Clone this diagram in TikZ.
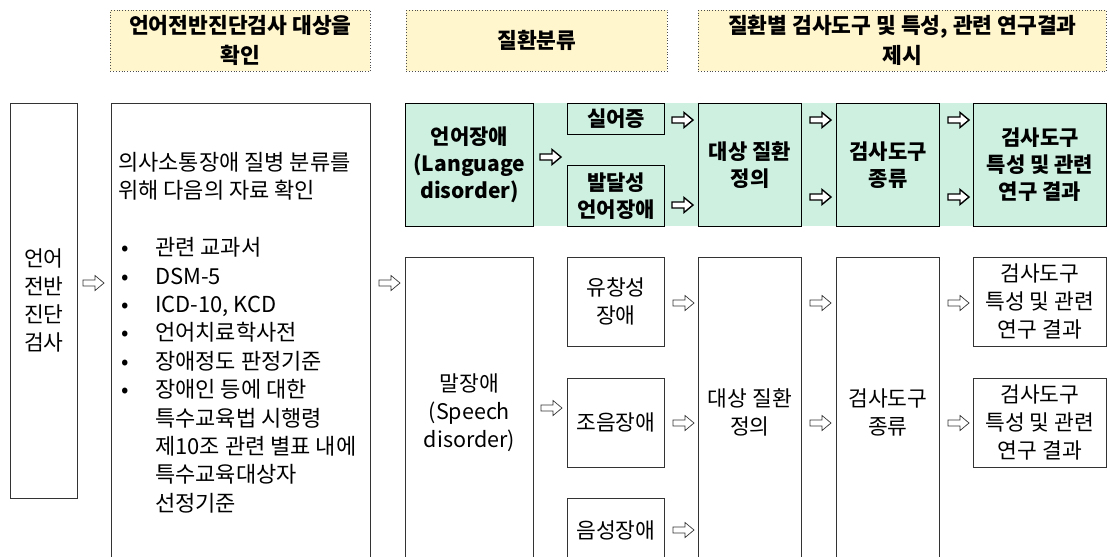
\documentclass[tikz,border=0pt]{standalone}
\usepackage{fontspec}
\setmainfont{Noto Sans CJK KR}
\definecolor{hdr}{RGB}{255,246,206}
\definecolor{grn}{RGB}{205,240,225}
\tikzset{
  hdrbox/.style={draw=black!70, dotted, line width=0.8pt, fill=hdr, anchor=north west, align=center, inner sep=0pt,
    font=\fontsize{21.5}{30}\selectfont\bfseries},
  grnbox/.style={draw=black, line width=1pt, fill=grn, anchor=north west, align=center, inner sep=0pt,
    font=\fontsize{21}{27}\selectfont\bfseries},
  wbox/.style={draw=black!80, line width=0.8pt, fill=white, anchor=north west, align=center, inner sep=0pt,
    font=\fontsize{21.5}{28}\selectfont},
  harrow/.pic={\draw[pic actions] (0,-3) -- (12,-3) -- (12,-7.5) -- (21,0) -- (12,7.5) -- (12,3) -- (0,3) -- cycle;},
  thinarr/.style={draw=black!80, line width=0.7pt, fill=white},
  boldarr/.style={draw=black, line width=1.4pt, fill=white, line join=miter}
}
\begin{document}
\begin{tikzpicture}[x=1pt,y=-1pt]
\useasboundingbox (0,0) rectangle (1109,557);
\clip (0,0) rectangle (1109,557);
\fill[white] (0,0) rectangle (1109,557);
% headers
\node[hdrbox, minimum width=260pt, minimum height=61pt] (h1) at (110,10) {언어전반진단검사 대상을\\확인};
\node[hdrbox, minimum width=261pt, minimum height=61pt] (h2) at (406,10) {질환분류};
\node[hdrbox, minimum width=408pt, minimum height=61pt] (h3) at (698,10) {질환별 검사도구 및 특성, 관련 연구결과\\제시};
% left column
\node[wbox, minimum width=67pt, minimum height=395pt] (start) at (10,103) {언어\\전반\\진단\\검사};
\node[wbox, minimum width=259pt, minimum height=464pt] (list) at (111,103) {};
\node[anchor=north west, inner sep=0pt, align=left, font=\fontsize{22}{28.4}\selectfont] (listtext) at (118,152)
 {의사소통장애 질병 분류를\\위해 다음의 자료 확인\\[28.4pt]
  \hspace*{3pt}\makebox[34pt][l]{•}관련 교과서\\
  \hspace*{3pt}\makebox[34pt][l]{•}DSM-5\\
  \hspace*{3pt}\makebox[34pt][l]{•}ICD-10, KCD\\
  \hspace*{3pt}\makebox[34pt][l]{•}언어치료학사전\\
  \hspace*{3pt}\makebox[34pt][l]{•}장애정도 판정기준\\
  \hspace*{3pt}\makebox[34pt][l]{•}장애인 등에 대한\\
  \hspace*{37pt}특수교육법 시행령\\
  \hspace*{37pt}제10조 관련 별표 내에\\
  \hspace*{37pt}특수교육대상자\\
  \hspace*{37pt}선정기준};
% green band
\fill[grn] (405,103) rectangle (1106,226);
\node[grnbox, minimum width=128pt, minimum height=123pt] (lang) at (405,103) {언어장애\\(Language\\disorder)};
\node[grnbox, minimum width=97pt, minimum height=31pt] (aph) at (567,103) {실어증};
\node[grnbox, minimum width=97pt, minimum height=61pt] (dev) at (567,165) {발달성\\언어장애};
\node[grnbox, minimum width=103pt, minimum height=123pt] (def1) at (698,103) {대상 질환\\정의};
\node[grnbox, minimum width=103pt, minimum height=123pt] (tool1) at (836,103) {검사도구\\종류};
\node[grnbox, minimum width=133pt, minimum height=123pt] (res1) at (973,103) {검사도구\\특성 및 관련\\연구 결과};
% lower row
\node[wbox, minimum width=128pt, minimum height=310pt] (speech) at (405,257) {말장애\\(Speech\\disorder)};
\node[wbox, minimum width=97pt, minimum height=89pt] (flu) at (567,257) {유창성\\장애};
\node[wbox, minimum width=97pt, minimum height=89pt] (art) at (567,378) {조음장애};
\node[wbox, minimum width=97pt, minimum height=65pt] (voice) at (567,498) {음성장애};
\node[wbox, minimum width=103pt, minimum height=310pt] (def2) at (698,257) {대상 질환\\정의};
\node[wbox, minimum width=103pt, minimum height=310pt] (tool2) at (836,257) {검사도구\\종류};
\node[wbox, minimum width=133pt, minimum height=89pt] (res2) at (973,257) {검사도구\\특성 및 관련\\연구 결과};
\node[wbox, minimum width=133pt, minimum height=89pt] (res3) at (973,378) {검사도구\\특성 및 관련\\연구 결과};
% arrows
\foreach \p in {(83,283),(379,283),(541,408),(673,303),(673,423),(673,530),(810,303),(810,423),(948,303),(948,423)}
  \pic[thinarr] at \p {harrow};
\foreach \p in {(540,157),(672,120),(672,205),(810,120),(810,197),(948,120),(948,197)}
  \pic[boldarr] at \p {harrow};
\end{tikzpicture}
\end{document}
